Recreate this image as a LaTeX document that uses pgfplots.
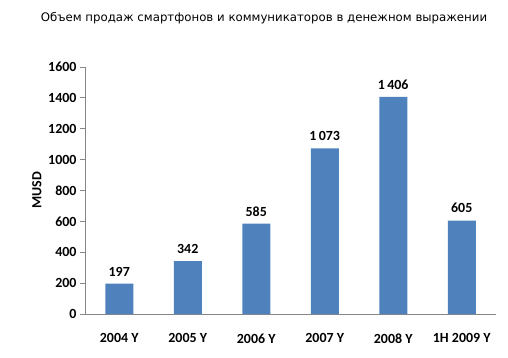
\documentclass[border=0pt]{standalone}
\usepackage{pgfplots}
\pgfplotsset{compat=1.18}
\usepackage{fontspec}
\setmainfont{Carlito}
\newfontfamily\titlefont{DejaVu Sans}
\definecolor{barblue}{RGB}{79,129,189}
\definecolor{axgray}{RGB}{134,134,134}
\begin{document}
\begin{tikzpicture}[x=1bp,y=1bp]
\useasboundingbox (0,0) rectangle (508,357);
\node[font=\titlefont\fontsize{11.8}{13}\selectfont] at (264,339) {Объем продаж смартфонов и коммуникаторов в денежном выражении};
\begin{axis}[
  at={(85bp,43bp)}, anchor=south west,
  scale only axis, width=411bp, height=247bp,
  xmin=-0.5, xmax=5.5, ymin=0, ymax=1600,
  axis lines*=left,
  axis line style={axgray, line width=0.8pt},
  ytick={0,200,...,1600},
  xtick={0,1,2,3,4,5},
  xticklabels={2004 Y,2005 Y,2006 Y,2007 Y,2008 Y,1H 2009 Y},
  x tick style={draw=none},
  extra x ticks={-0.5,0.5,1.5,2.5,3.5,4.5,5.5},
  extra x tick labels={},
  extra x tick style={tick style={draw=axgray, line width=0.8pt}, major tick length=5bp, tick align=outside},
  y tick style={draw=axgray, line width=0.8pt},
  major tick length=5bp, tick align=outside,
  ticklabel style={font=\fontsize{14}{16}\selectfont\bfseries},
  /pgf/number format/assume math mode=true,
  /pgf/number format/1000 sep={},
  xticklabel style={yshift=-11bp},
  ylabel={MUSD},
  ylabel style={font=\fontsize{14}{16}\selectfont\bfseries},
  ylabel shift=0bp,
  nodes near coords,
  point meta=explicit symbolic,
  every node near coord/.append style={font=\fontsize{14}{16}\selectfont\bfseries, black, yshift=4bp},
]
\addplot[ybar, bar width=28bp, fill=barblue, draw=none] table[meta=lab] {
x y lab
0 197 197
1 342 342
2 585 585
3 1073 {1\,073}
4 1406 {1\,406}
5 605 605
};
\end{axis}
\end{tikzpicture}
\end{document}
